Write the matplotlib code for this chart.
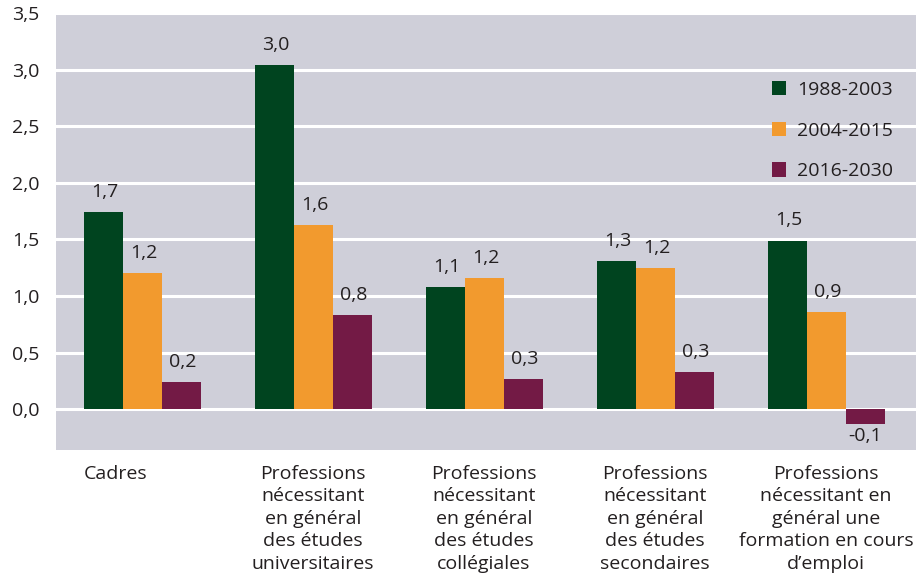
import numpy as np
import matplotlib
matplotlib.use("Agg")
import matplotlib.pyplot as plt
import matplotlib.transforms as mtransforms

plt.rcParams['font.family'] = ['Open Sans', 'DejaVu Sans']

# données
categories = [
    "Cadres",
    "Professions\nnécessitant\nen général\ndes études\nuniversitaires",
    "Professions\nnécessitant\nen général\ndes études\ncollégiales",
    "Professions\nnécessitant\nen général\ndes études\nsecondaires",
    "Professions\nnécessitant en\ngénéral une\nformation en cours\nd\u2019emploi",
]
series_names = ["1988-2003", "2004-2015", "2016-2030"]
vals_1988 = [1.74, 3.04, 1.08, 1.31, 1.49]
vals_2004 = [1.20, 1.63, 1.16, 1.25, 0.86]
vals_2016 = [0.24, 0.83, 0.27, 0.33, -0.13]
labels_1988 = ["1,7", "3,0", "1,1", "1,3", "1,5"]
labels_2004 = ["1,2", "1,6", "1,2", "1,2", "0,9"]
labels_2016 = ["0,2", "0,8", "0,3", "0,3", "-0,1"]
y_ticks = [0.0, 0.5, 1.0, 1.5, 2.0, 2.5, 3.0, 3.5]

colors = ["#00441f", "#f29a2e", "#731a45"]
bg = "#cfcfd9"
txt = "#231f20"
fs = 14

fig = plt.figure(figsize=(9.16, 5.82), dpi=100)
ax = fig.add_axes([56 / 916, 1 - 450 / 582, 1 - 56 / 916, (450 - 13) / 582])
ax.set_facecolor(bg)

x = np.arange(len(categories))
w = 0.228
all_vals = [vals_1988, vals_2004, vals_2016]
all_labels = [labels_1988, labels_2004, labels_2016]
for i, (vals, labs) in enumerate(zip(all_vals, all_labels)):
    pos = x + (i - 1) * w
    ax.bar(pos, vals, width=w, color=colors[i], label=series_names[i], zorder=3)
    for p, v, lab in zip(pos, vals, labs):
        if v >= 0:
            ax.annotate(lab, (p, v), xytext=(1, 8), textcoords="offset points",
                        ha="center", va="bottom", fontsize=fs, color=txt, zorder=4)
        else:
            ax.annotate(lab, (p, v), xytext=(0, -2), textcoords="offset points",
                        ha="center", va="top", fontsize=fs, color=txt, zorder=4)

ax.set_xlim(-0.503, 4.526)
ax.set_ylim(-0.36, 3.5)
ax.set_yticks(y_ticks)
ax.set_yticklabels([f"{t:.1f}".replace(".", ",") for t in y_ticks], fontsize=fs, color=txt)
ax.yaxis.grid(True, color="white", linewidth=2.2, zorder=1)
ax.set_axisbelow(True)
ax.tick_params(axis="y", length=0, pad=12)
ax.set_xticks([])
for s in ax.spines.values():
    s.set_visible(False)

# étiquettes des catégories sous le graphique
trans = mtransforms.blended_transform_factory(ax.transData, fig.transFigure)
for i, cat in enumerate(categories):
    if i == 0:
        ax.text(x[i] - 1.5 * w, 1 - 465 / 582, cat, transform=trans, ha="left", va="top",
                fontsize=fs, color=txt, linespacing=1.32)
    else:
        ax.text(x[i], 1 - 465 / 582, cat, transform=trans, ha="center", va="top",
                multialignment="center", fontsize=fs, color=txt, linespacing=1.32)

leg = ax.legend(loc="upper left", bbox_to_anchor=(0.812, 0.885), frameon=False,
                fontsize=fs, handlelength=0.75, handleheight=0.75, handletextpad=0.55,
                labelspacing=1.17, labelcolor=txt)

fig.savefig("out.png", dpi=100)
